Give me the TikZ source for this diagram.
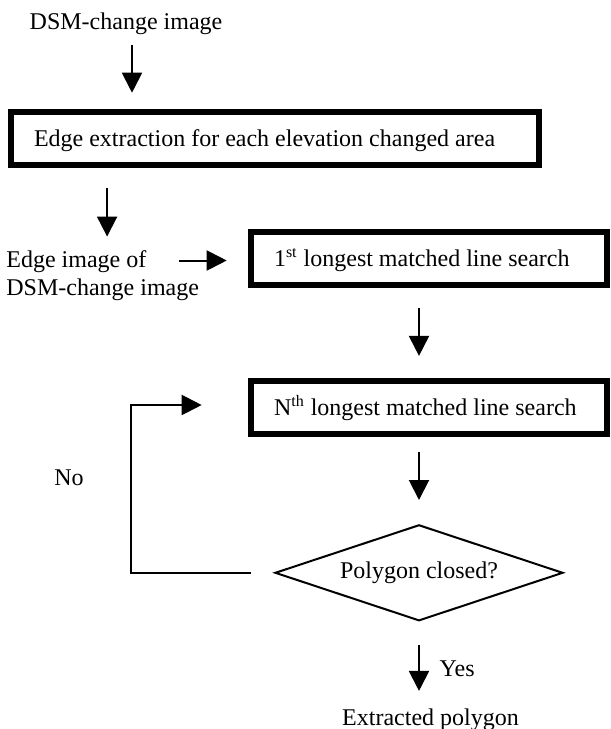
\documentclass[tikz,border=0pt]{standalone}
\usepackage{fontspec}
\setmainfont{Liberation Serif}
\usetikzlibrary{arrows.meta,shapes.geometric}
\newcommand{\boxline}[2]{\makebox[#1][l]{#2}}

\begin{document}
\begin{tikzpicture}[x=0.5pt,y=-0.5pt,
    font=\fontsize{12}{13.8}\selectfont,
    flowarrow/.style={line width=1pt,-{Triangle[width=10pt,length=10pt]}},
    procbox/.style={draw,line width=3.3pt,inner xsep=11.5pt,inner ysep=0pt,minimum height=26.5pt,
        text height=10pt,text depth=1.8pt},
    freetext/.style={inner sep=0pt}]
    \useasboundingbox (0,0) rectangle (611,729);
    % steps
    \node[freetext,anchor=base] (dsm) at (126,29) {DSM-change image};
    \node[procbox] (edge) at (275,138.3) {\boxline{241pt}{Edge extraction for each elevation changed area}};
    \node[freetext,align=left,anchor=west] (edgeimg) at (6,275.6) {Edge image of\\DSM-change image};
    \node[procbox] (first) at (429,258.3) {\boxline{155pt}{1\textsuperscript{st} longest matched line search}};
    \node[procbox] (nth) at (429,407.5) {\boxline{155pt}{N\textsuperscript{th} longest matched line search}};
    \node[draw,diamond,line width=1pt,aspect=3,inner sep=0pt,minimum width=144pt,minimum height=48pt] (closed) at (419,572.8) {Polygon closed?};
    \node[freetext,anchor=base] (result) at (430.5,725) {Extracted polygon};
    \node[freetext,anchor=base] (no) at (69,485) {No};
    \node[freetext,anchor=base west] (yes) at (439.3,676.7) {Yes};
    \coordinate (edgein) at (178.5,260.5);
    \coordinate (loopcorner) at (131,405);
    % arrows
    \draw[flowarrow,shorten <=5.4pt,shorten >=7.9pt] ([xshift=3pt]dsm.south) -- ([xshift=3pt]dsm.south |- edge.north);
    \draw[flowarrow,shorten <=10.1pt,shorten >=6.9pt] ([xshift=2.2pt]edgeimg.north |- edge.south) -- ([xshift=2.2pt]edgeimg.north);
    \draw[flowarrow,shorten >=10.5pt] (edgein) -- (edgein -| first.west);
    \draw[flowarrow,shorten <=10.1pt,shorten >=10.9pt] (first.south -| closed.north) -- (closed.north |- nth.north);
    \draw[flowarrow,shorten <=7.2pt,shorten >=11.9pt] (nth.south -| closed.north) -- (closed.north);
    \draw[flowarrow,shorten <=11.6pt,shorten >=8.5pt] (closed.south) -- (closed.south |- result.north);
    \draw[flowarrow,shorten <=11.3pt,shorten >=23pt] (closed.west) -- (closed.west -| loopcorner) -- (loopcorner) -- (loopcorner -| nth.west);
\end{tikzpicture}
\end{document}
